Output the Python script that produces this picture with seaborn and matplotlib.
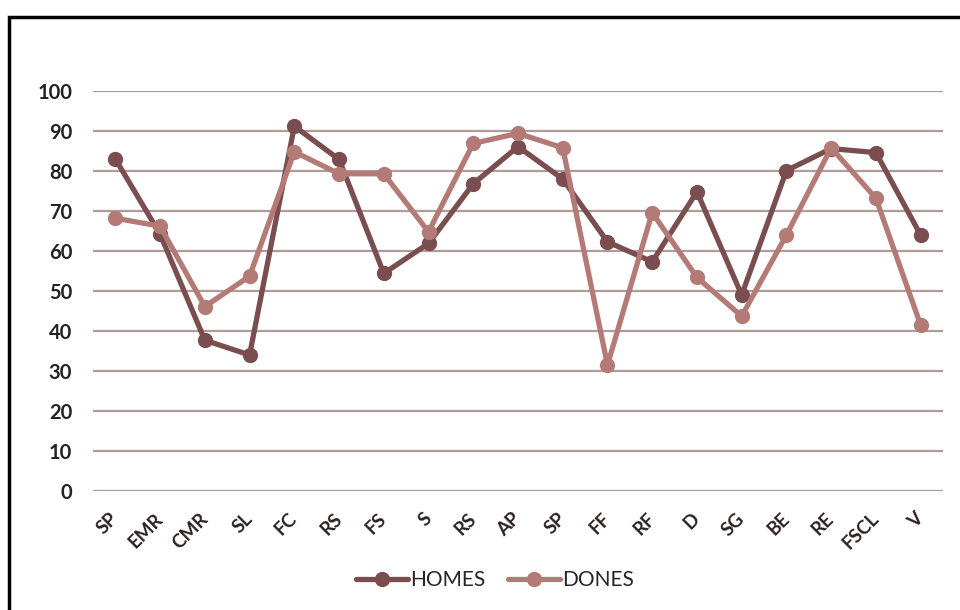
import matplotlib
matplotlib.use("Agg")
import matplotlib.pyplot as plt
import matplotlib.patches as mpatches
import matplotlib.transforms as mtransforms
import seaborn as sns
import pandas as pd

categories = ["SP", "EMR", "CMR", "SL", "FC", "RS", "FS", "S", "RS", "AP",
              "SP", "FF", "RF", "D", "SG", "BE", "RE", "FSCL", "V"]
homes = [83, 64.2, 37.7, 34, 91.2, 82.9, 54.4, 61.9, 76.8, 86.1,
         78, 62.3, 57.3, 74.8, 49, 80.1, 85.6, 84.6, 64]
dones = [68.2, 66.2, 46.1, 53.7, 84.8, 79.3, 79.3, 64.8, 86.9, 89.4,
         85.8, 31.5, 69.6, 53.4, 43.7, 64, 85.8, 73.2, 41.5]
series_names = ["HOMES", "DONES"]
y_ticks = [0, 10, 20, 30, 40, 50, 60, 70, 80, 90, 100]

colors = {"HOMES": "#7a4e4e", "DONES": "#b47a76"}
grid_color = "#b39a9a"

sns.set_theme(style="white")
plt.rcParams["font.family"] = ["Lato", "DejaVu Sans"]

pos = list(range(len(categories)))
df = pd.concat([
    pd.DataFrame({"pos": pos, "value": homes, "series": "HOMES"}),
    pd.DataFrame({"pos": pos, "value": dones, "series": "DONES"}),
])

fig = plt.figure(figsize=(9.6, 6.1), dpi=100)
ax = fig.add_axes([93 / 960, 1 - 491 / 610, 850 / 960, 400 / 610])

for y in y_ticks:
    ax.axhline(y, color=grid_color, lw=1.6, zorder=0)

sns.lineplot(data=df, x="pos", y="value", hue="series", hue_order=series_names,
             palette=colors, marker="o", markersize=11, markeredgewidth=0,
             linewidth=3.8, ax=ax, legend=False, sort=False)

ax.set_xlim(-0.5, len(categories) - 0.5)
ax.set_ylim(0, 100)
ax.set_yticks(y_ticks)
ax.set_yticklabels([str(v) for v in y_ticks], fontsize=14.5, fontweight="bold",
                   color="#222222")
ax.set_xticks(pos)
ax.set_xticklabels(categories, rotation=45, ha="right", va="center",
                   rotation_mode="anchor", fontsize=13.5, fontweight="bold",
                   color="#2a2020")
offset = mtransforms.ScaledTranslation(8 / 100, 0, fig.dpi_scale_trans)
for lbl in ax.get_xticklabels():
    lbl.set_transform(lbl.get_transform() + offset)
ax.tick_params(axis="x", length=0, pad=18)
ax.tick_params(axis="y", length=0, pad=15)
ax.set_xlabel("")
ax.set_ylabel("")
for s in ax.spines.values():
    s.set_visible(False)

handles = [plt.Line2D([], [], color=colors[n], lw=3.8, marker="o", markersize=11,
                      markeredgewidth=0) for n in series_names]
fig.legend(handles, series_names, loc="center", bbox_to_anchor=(495 / 960, 1 - 580 / 610),
           ncol=2, frameon=False, fontsize=15, handlelength=2.5, handletextpad=0.1,
           columnspacing=1.1)

fig.patches.append(mpatches.Rectangle((9 / 960, -0.2), 1.2, 1 - 17 / 610 + 0.2,
                                      transform=fig.transFigure, fill=False,
                                      edgecolor="black", lw=2.5))

fig.savefig("out.png", dpi=100, facecolor="white")
